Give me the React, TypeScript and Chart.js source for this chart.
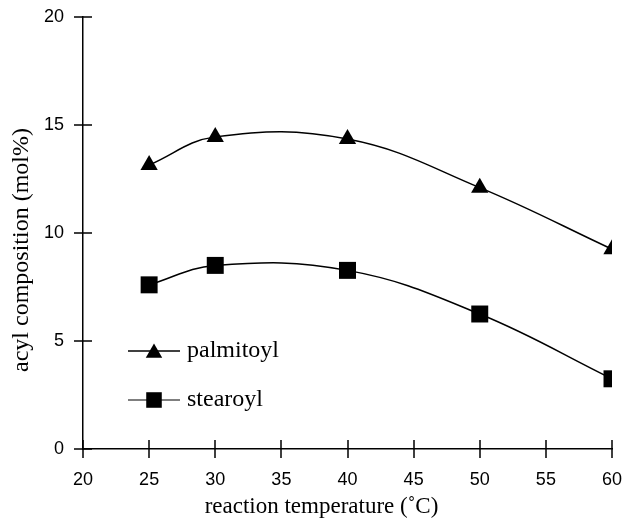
import React, { useEffect, useRef } from 'react';
import { Chart, registerables } from 'chart.js';
import { drawPoint } from 'chart.js/helpers';

Chart.register(...registerables);

const temperatures = [25, 30, 40, 50, 60];
const palmitoyl = [13.15, 14.45, 14.35, 12.1, 9.25];
const stearoyl = [7.6, 8.5, 8.27, 6.25, 3.25];
const seriesNames = ['palmitoyl', 'stearoyl'];
const xTickValues = [20, 25, 30, 35, 40, 45, 50, 55, 60];
const yTickValues = [0, 5, 10, 15, 20];
const xTitle = 'reaction temperature (\u02DAC)';
const yTitle = 'acyl composition (mol%)';

const W = 627;
const H = 529;

const crossTicks = {
  id: 'crossTicks',
  afterDraw(chart: any) {
    const { ctx, chartArea, scales } = chart;
    ctx.save();
    ctx.strokeStyle = '#000';
    ctx.lineWidth = 1.5;
    ctx.beginPath();
    xTickValues.forEach((v) => {
      const px = Math.round(scales.x.getPixelForValue(v));
      ctx.moveTo(px, chartArea.bottom - 9);
      ctx.lineTo(px, chartArea.bottom + 9);
    });
    yTickValues.forEach((v) => {
      const py = Math.round(scales.y.getPixelForValue(v));
      ctx.moveTo(chartArea.left - 9, py);
      ctx.lineTo(chartArea.left + 9, py);
    });
    ctx.stroke();

    // axis titles
    ctx.fillStyle = '#000';
    ctx.font = '23px "Liberation Serif"';
    ctx.textAlign = 'center';
    ctx.textBaseline = 'middle';
    const cx = (chartArea.left + chartArea.right) / 2 - 26;
    ctx.fillText(xTitle, cx, chartArea.bottom + 58);
    ctx.save();
    ctx.font = '24px "Liberation Serif"';
    ctx.translate(22, (chartArea.top + chartArea.bottom) / 2 + 17);
    ctx.rotate(-Math.PI / 2);
    ctx.fillText(yTitle, 0, 0);
    ctx.restore();

    // legend
    const styles = ['triangle', 'rect'];
    const radii = [9.5, 11];
    const ys = [chartArea.top + 334, chartArea.top + 383];
    const lineColors = ['#000', '#555'];
    seriesNames.forEach((name, i) => {
      const y = ys[i];
      const x0 = chartArea.left + 45;
      const x1 = chartArea.left + 97;
      ctx.strokeStyle = lineColors[i];
      ctx.lineWidth = 1.5;
      ctx.beginPath();
      ctx.moveTo(x0, y);
      ctx.lineTo(x1, y);
      ctx.stroke();
      ctx.fillStyle = '#000';
      drawPoint(ctx, { pointStyle: styles[i], rotation: 0, radius: radii[i], borderWidth: 0 } as any, (x0 + x1) / 2, y + (i === 0 ? 2 : 0));
      ctx.font = '24px "Liberation Serif"';
      ctx.textAlign = 'left';
      ctx.textBaseline = 'middle';
      ctx.fillText(name, chartArea.left + 104, y);
    });
    ctx.restore();
  },
};

export default function App() {
  const ref = useRef<HTMLCanvasElement>(null);
  useEffect(() => {
    document.body.style.margin = '0';
    const canvas = ref.current!;
    const chart = new Chart(canvas, {
      type: 'line',
      data: {
        datasets: [
          {
            label: seriesNames[0],
            data: temperatures.map((x, i) => ({ x, y: palmitoyl[i] })),
            borderColor: '#000',
            backgroundColor: '#000',
            borderWidth: 1.5,
            pointStyle: 'triangle',
            pointRadius: 10,
            pointBorderWidth: 0,
            tension: 0.4,
          },
          {
            label: seriesNames[1],
            data: temperatures.map((x, i) => ({ x, y: stearoyl[i] })),
            borderColor: '#000',
            backgroundColor: '#000',
            borderWidth: 1.5,
            pointStyle: 'rect',
            pointRadius: 12,
            pointBorderWidth: 0,
            tension: 0.4,
          },
        ],
      },
      options: {
        responsive: false,
        animation: false,
        layout: { padding: { top: 17, right: 15, left: 0, bottom: 0 } },
        plugins: { legend: { display: false }, tooltip: { enabled: false } },
        scales: {
          x: {
            type: 'linear',
            min: 20,
            max: 60,
            afterFit: (s: any) => { s.height = 80; s.paddingLeft = 0; s.paddingRight = 0; },
            afterBuildTicks: (s: any) => { s.ticks = xTickValues.map((v) => ({ value: v })); },
            ticks: {
              color: '#000',
              font: { family: '"Liberation Sans"', size: 18 },
              padding: 20,
              maxRotation: 0,
            },
            grid: { display: false, drawTicks: false },
            border: { display: true, color: '#000', width: 1.5 },
          },
          y: {
            type: 'linear',
            min: 0,
            max: 20,
            afterFit: (s: any) => { s.width = 83; s.paddingTop = 0; s.paddingBottom = 0; },
            afterBuildTicks: (s: any) => { s.ticks = yTickValues.map((v) => ({ value: v })); },
            ticks: {
              color: '#000',
              font: { family: '"Liberation Sans"', size: 18 },
              padding: 19,
            },
            grid: { display: false, drawTicks: false },
            border: { display: true, color: '#000', width: 1.5 },
          },
        },
      },
      plugins: [crossTicks],
    });
    return () => chart.destroy();
  }, []);
  return (
    <div style={{ position: 'absolute', left: 0, top: 0, width: W, height: H, background: '#fff' }}>
      <canvas ref={ref} width={W} height={H} style={{ width: W, height: H, display: 'block' }} />
    </div>
  );
}
